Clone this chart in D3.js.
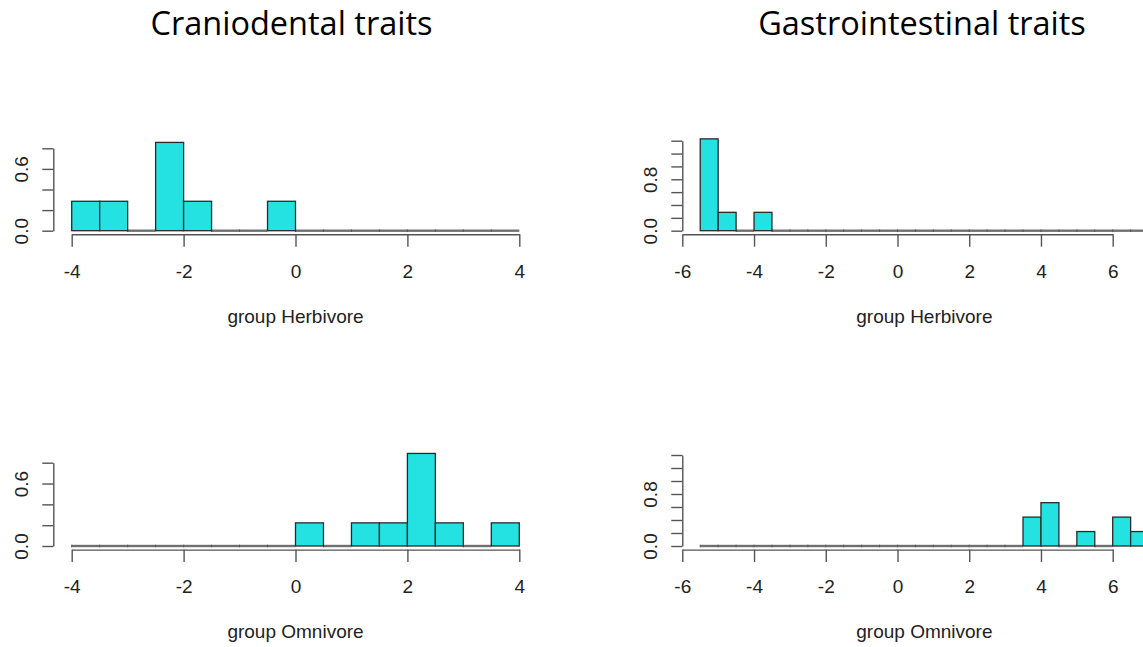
<!DOCTYPE html>
<html>
<head>
    <meta charset="utf-8">
    <script src="https://d3js.org/d3.v7.min.js"></script>
    <style>
        body { margin: 0; background: #ffffff; }
        .title { font-family: "Open Sans", "Noto Sans", sans-serif; font-size: 32.5px; fill: #000; }
        .rtext { font-family: "Liberation Sans", Arial, sans-serif; font-size: 19px; fill: #222; }
    </style>
</head>
<body>
<div id="chart"></div>
<script>

// histogram breaks (bin width 0.5)
var cranioBreaks = [-4, -3.5, -3, -2.5, -2, -1.5, -1, -0.5, 0, 0.5, 1, 1.5, 2, 2.5, 3, 3.5, 4];
var gastroBreaks = [-5.5, -5, -4.5, -4, -3.5, -3, -2.5, -2, -1.5, -1, -0.5, 0, 0.5, 1, 1.5, 2, 2.5, 3, 3.5, 4, 4.5, 5, 5.5, 6, 6.5, 7];

// counts per bin
var cranioHerbCounts = [1, 1, 0, 3, 1, 0, 0, 1, 0, 0, 0, 0, 0, 0, 0, 0];
var cranioOmniCounts = [0, 0, 0, 0, 0, 0, 0, 0, 1, 0, 1, 1, 4, 1, 0, 1];
var gastroHerbCounts = [5, 1, 0, 1, 0, 0, 0, 0, 0, 0, 0, 0, 0, 0, 0, 0, 0, 0, 0, 0, 0, 0, 0, 0, 0];
var gastroOmniCounts = [0, 0, 0, 0, 0, 0, 0, 0, 0, 0, 0, 0, 0, 0, 0, 0, 0, 0, 2, 3, 0, 1, 0, 2, 1];

// axes
var cranioXTicks = [-4, -2, 0, 2, 4];
var gastroXTicks = [-6, -4, -2, 0, 2, 4, 6];
var cranioYTicks = [0, 0.2, 0.4, 0.6, 0.8];
var gastroYTicks = [0, 0.2, 0.4, 0.6, 0.8, 1, 1.2, 1.4];
var cranioYLabels = [0, 0.6];
var gastroYLabels = [0, 0.8];

var titles = ["Craniodental traits", "Gastrointestinal traits"];
var groups = ["group Herbivore", "group Omnivore"];

var W = 1143, H = 647;

var svg = d3.select("#chart").append("svg")
    .attr("width", W)
    .attr("height", H);

svg.append("rect").attr("width", W).attr("height", H).attr("fill", "#fff");

// column layouts
var cols = [
    { yAxisX: 53.3, xr: [71.7, 519.3], center: 295.5, titleX: 291.5,
      breaks: cranioBreaks, xTicks: cranioXTicks, yTicks: cranioYTicks, yLabels: cranioYLabels,
      yTop: 0.8, yTopPx: [82.4, 83.3] },
    { yAxisX: 682.3, xr: [682.3, 1112.7], center: 924.4, titleX: 922,
      breaks: gastroBreaks, xTicks: gastroXTicks, yTicks: gastroYTicks, yLabels: gastroYLabels,
      yTop: 1.4, yTopPx: [90, 91] }
];
var rows = [230.7, 546];

var panels = [
    { col: 0, row: 0, counts: cranioHerbCounts, group: groups[0] },
    { col: 0, row: 1, counts: cranioOmniCounts, group: groups[1] },
    { col: 1, row: 0, counts: gastroHerbCounts, group: groups[0] },
    { col: 1, row: 1, counts: gastroOmniCounts, group: groups[1] }
];

cols.forEach(function(c, i) {
    svg.append("text")
        .attr("class", "title")
        .attr("x", c.titleX)
        .attr("y", 35)
        .attr("text-anchor", "middle")
        .text(titles[i]);
});

panels.forEach(function(p) {
    var c = cols[p.col];
    var base = rows[p.row];

    var x = d3.scaleLinear()
        .domain([c.xTicks[0], c.xTicks[c.xTicks.length - 1]])
        .range(c.xr);

    var y = d3.scaleLinear()
        .domain([0, c.yTop])
        .range([base, base - c.yTopPx[p.row]]);

    var n = d3.sum(p.counts);
    var bw = c.breaks[1] - c.breaks[0];
    var bins = p.counts.map(function(k, i) {
        return { x0: c.breaks[i], x1: c.breaks[i + 1], dens: k / (n * bw) };
    });

    var g = svg.append("g");

    // empty bins show as flat bars on the baseline
    g.selectAll(".zero")
        .data(bins.filter(function(d) { return d.dens == 0; }))
        .enter().append("line")
        .attr("x1", function(d) { return x(d.x0); })
        .attr("x2", function(d) { return x(d.x1); })
        .attr("y1", base)
        .attr("y2", base)
        .attr("stroke", "#707070")
        .attr("stroke-width", 2.4);

    g.selectAll(".brk")
        .data(bins.filter(function(d) { return d.dens == 0; }))
        .enter().append("line")
        .attr("x1", function(d) { return x(d.x0); })
        .attr("x2", function(d) { return x(d.x0); })
        .attr("y1", base - 1.3)
        .attr("y2", base + 1.3)
        .attr("stroke", "#555")
        .attr("stroke-width", 1);

    g.selectAll(".bar")
        .data(bins.filter(function(d) { return d.dens > 0; }))
        .enter().append("rect")
        .attr("x", function(d) { return x(d.x0); })
        .attr("width", function(d) { return x(d.x1) - x(d.x0); })
        .attr("y", function(d) { return y(d.dens); })
        .attr("height", function(d) { return base - y(d.dens); })
        .attr("fill", "#24e2e2")
        .attr("stroke", "#2a2a2a")
        .attr("stroke-width", 1.3);

    // x axis
    var xa = g.append("g")
        .attr("transform", "translate(0," + (base + 3.6) + ")")
        .call(d3.axisBottom(x).tickValues(c.xTicks).tickSize(12.4).tickSizeOuter(0).tickPadding(18)
            .tickFormat(function(d) { return d; }));

    // y axis
    var ya = g.append("g")
        .attr("transform", "translate(" + c.yAxisX + ",0)")
        .call(d3.axisLeft(y).tickValues(c.yTicks).tickSize(11).tickSizeOuter(0)
            .tickFormat(function(d) { return c.yLabels.indexOf(d) >= 0 ? d3.format(".1f")(d) : ""; }));

    ya.selectAll("text")
        .attr("x", null)
        .attr("dy", null)
        .attr("text-anchor", "middle")
        .attr("transform", "translate(-25.6,0) rotate(-90)");

    [xa, ya].forEach(function(a) {
        a.attr("font-family", null).attr("font-size", null);
        a.selectAll("path, line").attr("stroke", "#555").attr("stroke-width", 1.4);
        a.selectAll("text").attr("class", "rtext").attr("fill", null);
    });

    svg.append("text")
        .attr("class", "rtext")
        .attr("x", c.center)
        .attr("y", base + 92.3)
        .attr("text-anchor", "middle")
        .text(p.group);
});

</script>
</body>
</html>
